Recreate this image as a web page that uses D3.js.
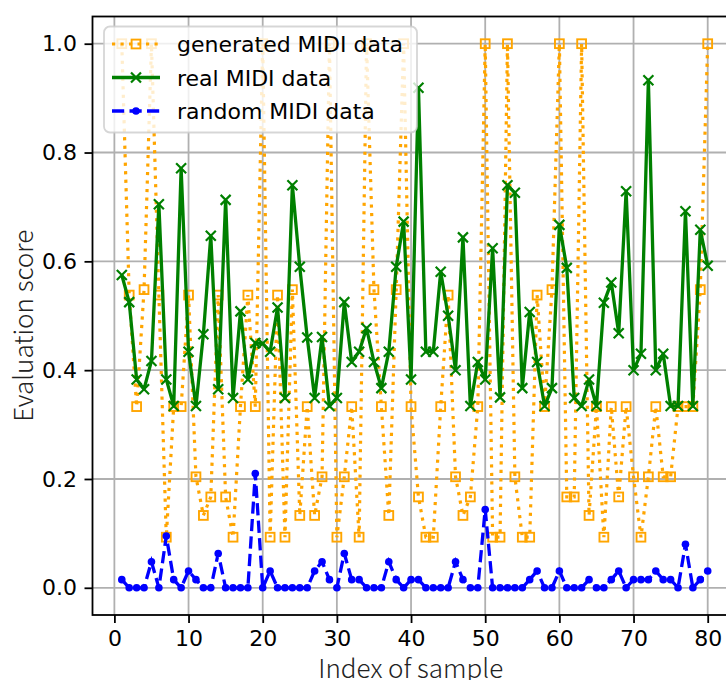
<!DOCTYPE html>
<html>
<head>
<meta charset="utf-8">
<script src="https://cdn.jsdelivr.net/npm/d3@7"></script>
<style>
  body { margin: 0; background: #fff; }
</style>
</head>
<body>
<div id="chart"></div>
<script>
// sample index runs 1..80
const sampleIdx = d3.range(1, 81);

// generated MIDI data (orange, dotted, squares)
const generated = [
  1.0, 0.538, 0.333, 0.548, 1.0, 0.538, 0.093, 0.333, 0.333, 0.538,
  0.204, 0.133, 0.167, 0.538, 0.167, 0.093, 0.333, 0.538, 0.333, 1.0,
  0.093, 0.538, 0.093, 0.548, 0.133, 0.333, 0.133, 0.204, 1.0, 0.093,
  0.204, 0.333, 0.093, 1.0, 0.548, 0.333, 0.133, 0.548, 1.0, 0.333,
  0.167, 0.093, 0.093, 0.333, 0.538, 0.204, 0.133, 0.167, 0.333, 1.0,
  0.093, 0.093, 1.0, 0.204, 0.093, 0.093, 0.538, 0.333, 0.548, 1.0,
  0.167, 0.167, 1.0, 0.133, 0.333, 0.093, 0.333, 0.167, 0.333, 0.204,
  0.093, 0.204, 0.333, 0.204, 0.204, 0.333, 0.333, 0.333, 0.548, 1.0
];

// real MIDI data (green, solid, x markers)
const real = [
  0.575, 0.525, 0.383, 0.365, 0.417, 0.705, 0.383, 0.334, 0.771, 0.434,
  0.334, 0.466, 0.647, 0.365, 0.713, 0.349, 0.508, 0.383, 0.450, 0.449,
  0.434, 0.515, 0.349, 0.740, 0.590, 0.460, 0.349, 0.461, 0.334, 0.349,
  0.525, 0.415, 0.434, 0.477, 0.415, 0.367, 0.434, 0.590, 0.673, 0.383,
  0.919, 0.434, 0.434, 0.581, 0.500, 0.400, 0.644, 0.334, 0.415, 0.383,
  0.624, 0.350, 0.740, 0.726, 0.367, 0.507, 0.415, 0.334, 0.367, 0.667,
  0.588, 0.349, 0.334, 0.383, 0.334, 0.524, 0.561, 0.468, 0.729, 0.400,
  0.430, 0.933, 0.400, 0.430, 0.334, 0.334, 0.692, 0.334, 0.658, 0.592
];

// random MIDI data (blue, dashed, dots)
const random = [
  0.015, 0, 0, 0, 0.048, 0, 0.095, 0.015, 0, 0.031,
  0.015, 0, 0, 0.063, 0, 0, 0, 0, 0.210, 0,
  0.031, 0, 0, 0, 0, 0, 0.031, 0.048, 0.015, 0,
  0.063, 0.015, 0.015, 0, 0, 0, 0.048, 0.015, 0, 0.015,
  0.015, 0, 0, 0, 0, 0.048, 0.015, 0, 0, 0.144,
  0, 0, 0, 0, 0, 0.015, 0.031, 0, 0, 0.031,
  0, 0, 0, 0.015, 0, 0, 0.015, 0.031, 0, 0.015,
  0.015, 0.015, 0.031, 0.015, 0.015, 0, 0.080, 0, 0.015, 0.031
];

const xTicks = [0, 10, 20, 30, 40, 50, 60, 70, 80];
const yTicks = [0.0, 0.2, 0.4, 0.6, 0.8, 1.0];
const legendLabels = ["generated MIDI data", "real MIDI data", "random MIDI data"];

const width = 726;
const height = 680;
// plot box edges (right edge is past the window, like the cropped original)
const box = { left: 92.5, top: 16.5, right: 737, bottom: 615 };

const svg = d3.select("#chart").append("svg")
  .attr("width", width)
  .attr("height", height)
  .style("font-family", "'DejaVu Sans', sans-serif");

const x = d3.scaleLinear().domain([-2.95, 83.95]).range([box.left, box.right]);
const y = d3.scaleLinear().domain([-0.05, 1.05]).range([box.bottom, box.top]);

// grid
const grid = svg.append("g").attr("stroke", "#b0b0b0").attr("stroke-width", 1.8);
xTicks.forEach(t => {
  grid.append("line").attr("x1", x(t)).attr("x2", x(t)).attr("y1", box.top).attr("y2", box.bottom);
});
yTicks.forEach(t => {
  grid.append("line").attr("x1", box.left).attr("x2", box.right).attr("y1", y(t)).attr("y2", y(t));
});

// axes
const xAxis = svg.append("g")
  .attr("transform", `translate(0,${box.bottom})`)
  .call(d3.axisBottom(x).tickValues(xTicks).tickSize(8).tickPadding(7).tickFormat(d3.format("d")));
const yAxis = svg.append("g")
  .attr("transform", `translate(${box.left},0)`)
  .call(d3.axisLeft(y).tickValues(yTicks).tickSize(8).tickPadding(7.5).tickFormat(d3.format(".1f")));
[xAxis, yAxis].forEach(a => {
  a.select(".domain").remove();
  a.selectAll(".tick line").attr("stroke", "#000").attr("stroke-width", 1.8);
  a.selectAll("text").style("font-size", "22px").style("font-family", "'DejaVu Sans', sans-serif").attr("fill", "#000");
});

const line = d3.line().x((d, i) => x(sampleIdx[i])).y(d => y(d));

// generated
svg.append("path")
  .datum(generated)
  .attr("d", line)
  .attr("fill", "none")
  .attr("stroke", "orange")
  .attr("stroke-width", 3.2)
  .attr("stroke-dasharray", "3.2,5.3");
svg.append("g").selectAll("rect")
  .data(generated)
  .enter()
  .append("rect")
  .attr("x", (d, i) => x(sampleIdx[i]) - 4.4)
  .attr("y", d => y(d) - 4.4)
  .attr("width", 8.8)
  .attr("height", 8.8)
  .attr("fill", "none")
  .attr("stroke", "orange")
  .attr("stroke-width", 1.9);

// real
svg.append("path")
  .datum(real)
  .attr("d", line)
  .attr("fill", "none")
  .attr("stroke", "green")
  .attr("stroke-width", 3.3)
  .attr("stroke-linejoin", "round");
const xMark = (cx, cy, r) => `M${cx - r},${cy - r}L${cx + r},${cy + r}M${cx - r},${cy + r}L${cx + r},${cy - r}`;
svg.append("g").selectAll("path")
  .data(real)
  .enter()
  .append("path")
  .attr("d", (d, i) => xMark(x(sampleIdx[i]), y(d), 5))
  .attr("stroke", "green")
  .attr("stroke-width", 2.2);

// random
svg.append("path")
  .datum(random)
  .attr("d", line)
  .attr("fill", "none")
  .attr("stroke", "blue")
  .attr("stroke-width", 3.3)
  .attr("stroke-dasharray", "12.2,5.3");
svg.append("g").selectAll("circle")
  .data(random)
  .enter()
  .append("circle")
  .attr("cx", (d, i) => x(sampleIdx[i]))
  .attr("cy", d => y(d))
  .attr("r", 3.8)
  .attr("fill", "blue");

// spines
svg.append("rect")
  .attr("x", box.left)
  .attr("y", box.top)
  .attr("width", box.right - box.left)
  .attr("height", box.bottom - box.top)
  .attr("fill", "none")
  .attr("stroke", "#000")
  .attr("stroke-width", 1.8);

// axis labels
svg.append("text")
  .attr("x", (box.left + box.right) / 2 - 4)
  .attr("y", 678)
  .attr("text-anchor", "middle")
  .style("font-family", "'Noto Sans CJK SC', sans-serif")
  .style("font-weight", 300)
  .style("font-size", "26px")
  .attr("fill", "#222")
  .text("Index of sample");

svg.append("text")
  .attr("transform", `translate(33,${(box.top + box.bottom) / 2 + 10}) rotate(-90)`)
  .attr("text-anchor", "middle")
  .style("font-family", "'Noto Sans CJK SC', sans-serif")
  .style("font-weight", 300)
  .style("font-size", "26px")
  .attr("fill", "#222")
  .text("Evaluation score");

// legend
const legend = svg.append("g");
legend.append("rect")
  .attr("x", 104)
  .attr("y", 26.5)
  .attr("width", 313)
  .attr("height", 106)
  .attr("rx", 6)
  .attr("fill", "#fff")
  .attr("fill-opacity", 0.8)
  .attr("stroke", "#ccc")
  .attr("stroke-opacity", 0.8)
  .attr("stroke-width", 1.8);

const rowY = [44, 77.5, 111];
const hx0 = 112, hx1 = 160, hxc = 136;
// generated
legend.append("line").attr("x1", hx0).attr("x2", hx1).attr("y1", rowY[0]).attr("y2", rowY[0])
  .attr("stroke", "orange").attr("stroke-width", 3.2).attr("stroke-dasharray", "3.2,5.3");
legend.append("rect").attr("x", hxc - 4.4).attr("y", rowY[0] - 4.4).attr("width", 8.8).attr("height", 8.8)
  .attr("fill", "none").attr("stroke", "orange").attr("stroke-width", 1.9);
// real
legend.append("line").attr("x1", hx0).attr("x2", hx1).attr("y1", rowY[1]).attr("y2", rowY[1])
  .attr("stroke", "green").attr("stroke-width", 3.3);
legend.append("path").attr("d", xMark(hxc, rowY[1], 5)).attr("stroke", "green").attr("stroke-width", 2.2);
// random
legend.append("line").attr("x1", hx0).attr("x2", hx1).attr("y1", rowY[2]).attr("y2", rowY[2])
  .attr("stroke", "blue").attr("stroke-width", 3.3).attr("stroke-dasharray", "12.2,5.3");
legend.append("circle").attr("cx", hxc).attr("cy", rowY[2]).attr("r", 3.8).attr("fill", "blue");

legendLabels.forEach((label, i) => {
  legend.append("text")
    .attr("x", 177)
    .attr("y", rowY[i] + 8)
    .style("font-size", "22px")
    .attr("fill", "#000")
    .text(label);
});
</script>
</body>
</html>
